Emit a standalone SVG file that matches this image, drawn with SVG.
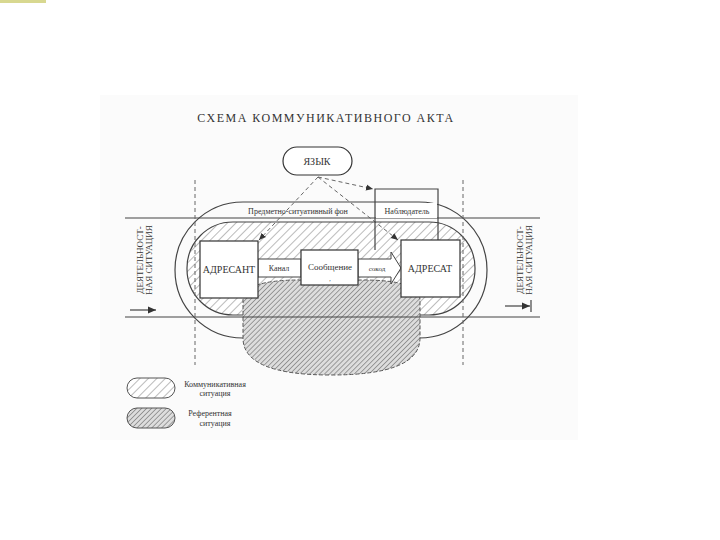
<svg xmlns="http://www.w3.org/2000/svg" width="720" height="540" viewBox="0 0 720 540">
<defs>
<pattern id="h1" width="6" height="6" patternUnits="userSpaceOnUse" patternTransform="rotate(45)"><rect width="6" height="6" fill="#fff"/><line x1="0" y1="0" x2="0" y2="6" stroke="#777" stroke-width="1"/></pattern>
<pattern id="h2" width="3.5" height="3.5" patternUnits="userSpaceOnUse" patternTransform="rotate(45)"><rect width="4" height="4" fill="#ddd"/><line x1="0" y1="0" x2="0" y2="4" stroke="#555" stroke-width="1"/></pattern>
<marker id="ar" markerWidth="8" markerHeight="8" refX="7" refY="4" orient="auto"><path d="M0,1 L7,4 L0,7 z" fill="#333"/></marker>
</defs>
<style>
text{font-family:"Liberation Serif",serif;fill:#333}
.s{fill:none;stroke:#444;stroke-width:1.2}
.d{fill:none;stroke:#666;stroke-width:1;stroke-dasharray:4 3}
.b{fill:#fff;stroke:#333;stroke-width:1.2}
</style>
<rect width="720" height="540" fill="#fff"/>
<line x1="0" y1="1.5" x2="46" y2="1.5" stroke="#d8d890" stroke-width="3"/>
<rect x="100" y="95" width="478" height="345" fill="#fbfbfb"/>
<text x="326" y="122" font-size="12" text-anchor="middle" letter-spacing="1.5">СХЕМА  КОММУНИКАТИВНОГО  АКТА</text>
<g id="outer"><rect x="175" y="202" width="312" height="136" rx="68" class="s"/></g>
<g id="comm"><rect x="187" y="222" width="288" height="93" rx="46" fill="url(#h1)" stroke="#444" stroke-width="1.2"/></g>
<g id="ref"><path d="M243,315 L243,300 Q243,280 300,280 L363,280 Q420,280 420,300 L420,338 Q420,375 331,375 Q243,375 243,338 Z" fill="url(#h2)" stroke="#555" stroke-width="1" stroke-dasharray="4 2"/></g>
<g id="connectors">
<line x1="125" y1="218" x2="540" y2="218" class="s"/>
<line x1="125" y1="317" x2="540" y2="317" class="s"/>
<line x1="195" y1="180" x2="195" y2="365" class="d"/>
<line x1="463" y1="180" x2="463" y2="365" class="d"/>
<line x1="318" y1="177" x2="259" y2="240" class="d" marker-end="url(#ar)"/>
<line x1="318" y1="177" x2="398" y2="240" class="d" marker-end="url(#ar)"/>
<line x1="318" y1="177" x2="373" y2="189" class="d" marker-end="url(#ar)"/>
<line x1="130" y1="310" x2="156" y2="310" class="s" marker-end="url(#ar)"/>
<line x1="505" y1="306" x2="530" y2="306" class="s" marker-end="url(#ar)"/>
<line x1="531" y1="300" x2="531" y2="312" class="s"/>
<rect x="258" y="259" width="43" height="18" fill="#fff" stroke="#444"/>
<path d="M358,259 L391,259 L391,252 L401,268 L391,284 L391,277 L358,277 Z" fill="#fff" stroke="#444"/>
</g>
<g id="observer"><path d="M375,250 L375,189 L438,189 L438,240" class="s"/><rect x="376" y="203" width="61" height="15" fill="#fff"/><text x="407" y="214" font-size="8" text-anchor="middle">Наблюдатель</text></g>
<text x="298" y="214" font-size="8" text-anchor="middle">Предметно-ситуативный фон</text>
<g id="lang"><rect x="283" y="147" width="69" height="28" rx="14" class="b"/><text x="317" y="165" font-size="10" text-anchor="middle">ЯЗЫК</text></g>
<g id="sender"><rect x="200" y="241" width="58" height="57" class="b"/><text x="229" y="273" font-size="10" text-anchor="middle">АДРЕСАНТ</text></g>
<g id="message"><rect x="301" y="250" width="57" height="35" class="b"/><text x="330" y="270" font-size="9" text-anchor="middle">Сообщение</text><text x="330" y="281" font-size="6" text-anchor="middle">,</text></g>
<g id="receiver"><rect x="401" y="240" width="59" height="57" class="b"/><text x="430" y="272" font-size="10" text-anchor="middle">АДРЕСАТ</text></g>
<text x="279" y="271" font-size="8" text-anchor="middle">Канал</text>
<text x="377" y="271" font-size="7" text-anchor="middle">сокод</text>
<text transform="translate(143,260) rotate(-90)" font-size="9" text-anchor="middle" font-family="Liberation Sans,sans-serif">ДЕЯТЕЛЬНОСТ-</text>
<text transform="translate(152,260) rotate(-90)" font-size="9" text-anchor="middle" font-family="Liberation Sans,sans-serif">НАЯ СИТУАЦИЯ</text>
<text transform="translate(523,260) rotate(-90)" font-size="9" text-anchor="middle" font-family="Liberation Sans,sans-serif">ДЕЯТЕЛЬНОСТ-</text>
<text transform="translate(532,260) rotate(-90)" font-size="9" text-anchor="middle" font-family="Liberation Sans,sans-serif">НАЯ СИТУАЦИЯ</text>
<g id="legend1"><rect x="127" y="378" width="48" height="20" rx="10" fill="url(#h1)" stroke="#555"/><text x="215" y="387" font-size="8" text-anchor="middle">Коммуникативная</text><text x="215" y="396" font-size="8" text-anchor="middle">ситуация</text></g>
<g id="legend2"><rect x="127" y="408" width="48" height="20" rx="10" fill="url(#h2)" stroke="#555"/><text x="210" y="416" font-size="8" text-anchor="middle">Референтная</text><text x="215" y="426" font-size="8" text-anchor="middle">ситуация</text></g>
</svg>
